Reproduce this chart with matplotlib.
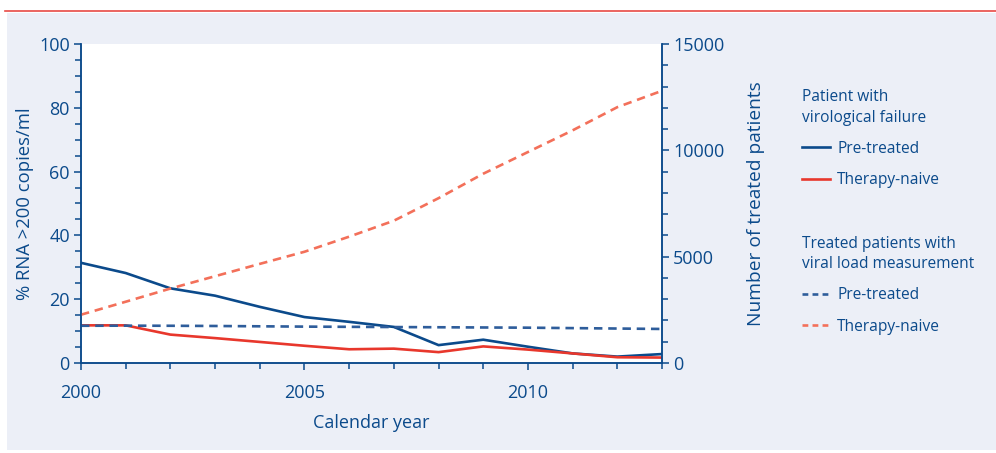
import matplotlib
matplotlib.use('Agg')
import matplotlib.pyplot as plt
from matplotlib.lines import Line2D
from matplotlib.patches import Rectangle
from matplotlib.ticker import MultipleLocator

plt.rcParams['font.family'] = ['Open Sans', 'DejaVu Sans']

# Data
years = [2000, 2001, 2002, 2003, 2004, 2005, 2006, 2007, 2008, 2009, 2010, 2011, 2012, 2013]
# % RNA >200 copies/ml (patients with virological failure)
fail_pretreated = [31.4, 28.2, 23.4, 21.1, 17.6, 14.4, 12.9, 11.3, 5.6, 7.3, 5.1, 3.0, 2.0, 2.8]
fail_naive = [11.8, 11.8, 8.9, 7.8, 6.6, 5.4, 4.3, 4.5, 3.4, 5.2, 4.2, 3.0, 1.8, 1.7]
# Number of treated patients with viral load measurement
treated_pretreated = [1750, 1755, 1750, 1740, 1725, 1710, 1700, 1690, 1680, 1670, 1660, 1640, 1620, 1600]
treated_naive = [2270, 2880, 3500, 4080, 4660, 5230, 5940, 6690, 7750, 8900, 9920, 10940, 12030, 12800]

blue = '#0b4a8b'
red = '#e8372c'
dash_blue = '#2e5d9b'
dash_red = '#f3705a'
bg = '#eceff7'

fig = plt.figure(figsize=(9.96, 4.53), dpi=100)
fig.patches.append(Rectangle((0.007, 0.006), 0.993, 0.966, transform=fig.transFigure,
                             facecolor=bg, edgecolor='none', zorder=-10))
fig.add_artist(Line2D([0.005, 1.0], [0.975, 0.975], transform=fig.transFigure,
                      color='#e84a45', lw=1.2))

ax = fig.add_axes([0.0813, 0.1987, 0.5834, 0.7042])
ax2 = ax.twinx()

ax.plot(years, fail_pretreated, color=blue, lw=1.9, solid_joinstyle='round')
ax.plot(years, fail_naive, color=red, lw=1.9, solid_joinstyle='round')
ax2.plot(years, treated_pretreated, color=dash_blue, lw=1.9, dashes=(3.2, 2.2))
ax2.plot(years, treated_naive, color=dash_red, lw=1.9, dashes=(3.2, 2.2))

ax.set_xlim(2000, 2013)
ax.set_ylim(0, 100)
ax2.set_ylim(0, 15000)

ax.xaxis.set_major_locator(MultipleLocator(5))
ax.xaxis.set_minor_locator(MultipleLocator(1))
ax.yaxis.set_major_locator(MultipleLocator(20))
ax.yaxis.set_minor_locator(MultipleLocator(5))
ax2.yaxis.set_major_locator(MultipleLocator(5000))
ax2.yaxis.set_minor_locator(MultipleLocator(1000))

for a in (ax, ax2):
    a.set_facecolor('white' if a is ax else 'none')
    for s in a.spines.values():
        s.set_color(blue)
        s.set_linewidth(1.1)
    a.spines['top'].set_visible(False)
    a.tick_params(which='both', colors=blue, labelcolor=blue, width=1.1, labelsize=13)
    a.tick_params(which='major', length=5, pad=3)
    a.tick_params(which='minor', length=4)

ax.tick_params(axis='x', which='major', pad=10)

ax.set_xlabel('Calendar year', color=blue, fontsize=13, labelpad=9)
ax.set_ylabel('% RNA >200 copies/ml', color=blue, fontsize=13.3, labelpad=4)
ax2.set_ylabel('Number of treated patients', color=blue, fontsize=13.8, labelpad=16)

# Legends
h1 = [Line2D([], [], color=blue, lw=1.9), Line2D([], [], color=red, lw=1.9)]
h2 = [Line2D([], [], color=dash_blue, lw=1.9, dashes=(2.2, 1.6)),
      Line2D([], [], color=dash_red, lw=1.9, dashes=(2.2, 1.6))]
labels = ['Pre-treated', 'Therapy-naive']
for handles, title, y in ((h1, 'Patient with\nvirological failure', 0.82),
                          (h2, 'Treated patients with\nviral load measurement', 0.497)):
    leg = fig.legend(handles, labels, title=title, loc='upper left', bbox_to_anchor=(0.797, y),
                     frameon=False, alignment='left', fontsize=11.2, title_fontsize=11.2,
                     handlelength=1.85, handletextpad=0.45, labelspacing=1.0, borderpad=0)
    leg.get_title().set_color(blue)
    leg.get_title().set_linespacing(1.35)
    leg._legend_box.sep = 11
    for t in leg.get_texts():
        t.set_color(blue)

fig.savefig('out.png', dpi=100)
